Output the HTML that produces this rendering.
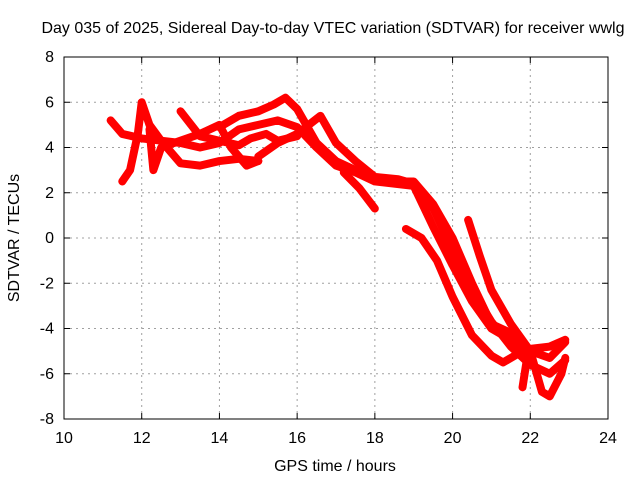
<!DOCTYPE html>
<html><head><meta charset="utf-8"><style>
body{margin:0;background:#fff;font-family:"Liberation Sans",sans-serif}
svg text{font-family:"Liberation Sans",sans-serif;font-size:14px;fill:#000}
svg text.big{font-size:16px}
</style></head><body>
<svg width="640" height="480">
<g id="grid"></g>
<g id="series"></g>
<rect x="64" y="57" width="544" height="362" fill="none" stroke="#000"/>
<g id="axes"></g>
<text class="big" x="333" y="33" text-anchor="middle">Day 035 of 2025, Sidereal Day-to-day VTEC variation (SDTVAR) for receiver wwlg</text>
<text class="big" x="335" y="471" text-anchor="middle">GPS time / hours</text>
<text class="big" transform="translate(19,238) rotate(-90)" text-anchor="middle">SDTVAR / TECUs</text>
</svg>
<script>
const xTicks=[10,12,14,16,18,20,22,24];
const yTicks=[-8,-6,-4,-2,0,2,4,6,8];
const trackA=[[11.2,5.2],[11.5,4.6],[12,4.4],[12.5,4.3],[13,4.2],[13.5,4.0],[14,4.2],[14.5,4.8],[15,5.0],[15.5,5.2],[16,4.9],[16.5,4.0],[17,3.2],[17.5,2.9],[18,2.5],[18.5,2.4],[19,2.3],[19.5,0.5],[20,-1.2],[20.5,-2.8],[21,-4.0],[21.5,-4.5],[22,-5.0],[22.5,-5.3],[22.9,-4.6]];
const trackB=[[14,4.9],[14.5,5.4],[15,5.6],[15.4,5.9],[15.7,6.2],[16,5.7],[16.5,4.2],[17,3.4],[17.5,3.0],[18,2.6],[18.5,2.5],[19,2.5],[19.5,1.5],[20,0],[20.5,-2],[21,-3.8],[21.5,-4.2],[22,-5.1]];
const trackC=[[15,3.6],[15.5,4.2],[16,4.6],[16.6,5.4],[17,4.2],[17.5,3.4],[18,2.7],[18.6,2.6],[19,2.4],[19.5,1.3],[20,-0.5],[20.5,-2.3],[21,-3.7],[21.5,-4.8],[22,-5.6],[22.5,-6.0],[22.9,-5.4]];
const trackD=[[18.8,0.4],[19.2,0],[19.6,-1],[20,-2.6],[20.5,-4.3],[21,-5.2],[21.3,-5.5],[21.7,-5.1],[22,-4.9],[22.5,-4.8],[22.9,-4.5]];
const trackE=[[20.4,0.8],[20.7,-0.8],[21,-2.3],[21.5,-3.8],[22,-5.0],[22.3,-6.8],[22.5,-7.0],[22.8,-6.0],[22.9,-5.3]];
const trackF=[[11.5,2.5],[11.7,3.0],[11.9,4.6],[12,6.0],[12.2,5.0],[12.5,4.3],[13,3.3],[13.5,3.2],[14,3.4],[14.5,3.5],[15,3.4]];
const trackG=[[12.2,4.8],[12.3,3.0],[12.5,4.0],[13,4.3],[13.5,4.6],[14,5.0],[14.3,4.0],[14.7,3.2],[15,3.4]];
const trackH=[[13,5.6],[13.5,4.5],[14,4.3],[14.5,4.1],[14.8,4.4],[15.2,4.6],[15.5,4.3],[16,4.5]];
const trackI=[[17.2,2.9],[17.6,2.2],[18,1.3]];
const trackJ=[[21.8,-6.6],[21.9,-5.5],[22,-5.0]];
const tracks=[trackA,trackB,trackC,trackD,trackE,trackF,trackG,trackH,trackI,trackJ];
const X0=64,X1=608,Y0=419,Y1=57;
const sx=v=>X0+(v-10)/14*(X1-X0);
const sy=v=>Y0-(v+8)/16*(Y0-Y1);
const NS="http://www.w3.org/2000/svg";
const grid=document.getElementById('grid'),axes=document.getElementById('axes'),ser=document.getElementById('series');
function mk(tag,attrs,parent){const e=document.createElementNS(NS,tag);for(const k in attrs)e.setAttribute(k,attrs[k]);parent.appendChild(e);return e;}
xTicks.forEach(t=>{const x=sx(t);
 if(t>10&&t<24){const g=mk('line',{x1:x,x2:x,y1:Y1,y2:Y0,stroke:'#a0a0a0','stroke-dasharray':'2,4'},grid);
 
 }
 const a=mk('line',{x1:x,x2:x,y1:Y0,y2:Y0-6,stroke:'#000'},axes);
 
 
 const b=mk('line',{x1:x,x2:x,y1:Y1,y2:Y1+6,stroke:'#000'},axes);
 
 
 const tx=mk('text',{x:x,y:Y0+24,'text-anchor':'middle','class':'big'},axes);tx.textContent=t;
 
 
});
yTicks.forEach(t=>{const y=sy(t);
 if(t>-8&&t<8){const g=mk('line',{x1:X0,x2:X1,y1:y,y2:y,stroke:'#a0a0a0','stroke-dasharray':'2,4'},grid);
 
 }
 const a=mk('line',{x1:X0,x2:X0+6,y1:y,y2:y,stroke:'#000'},axes);
 
 
 const b=mk('line',{x1:X1,x2:X1-6,y1:y,y2:y,stroke:'#000'},axes);
 
 
 const tx=mk('text',{x:X0-10,y:y+5,'text-anchor':'end','class':'big'},axes);tx.textContent=t;
 
 
});
tracks.forEach((tr,i)=>{
 const p=mk('polyline',{points:tr.map(d=>sx(d[0])+','+sy(d[1])).join(' '),fill:'none',stroke:'#ff0000','stroke-width':8,'stroke-linejoin':'round','stroke-linecap':'round'},ser);
 
 
});
</script>
</body></html>
